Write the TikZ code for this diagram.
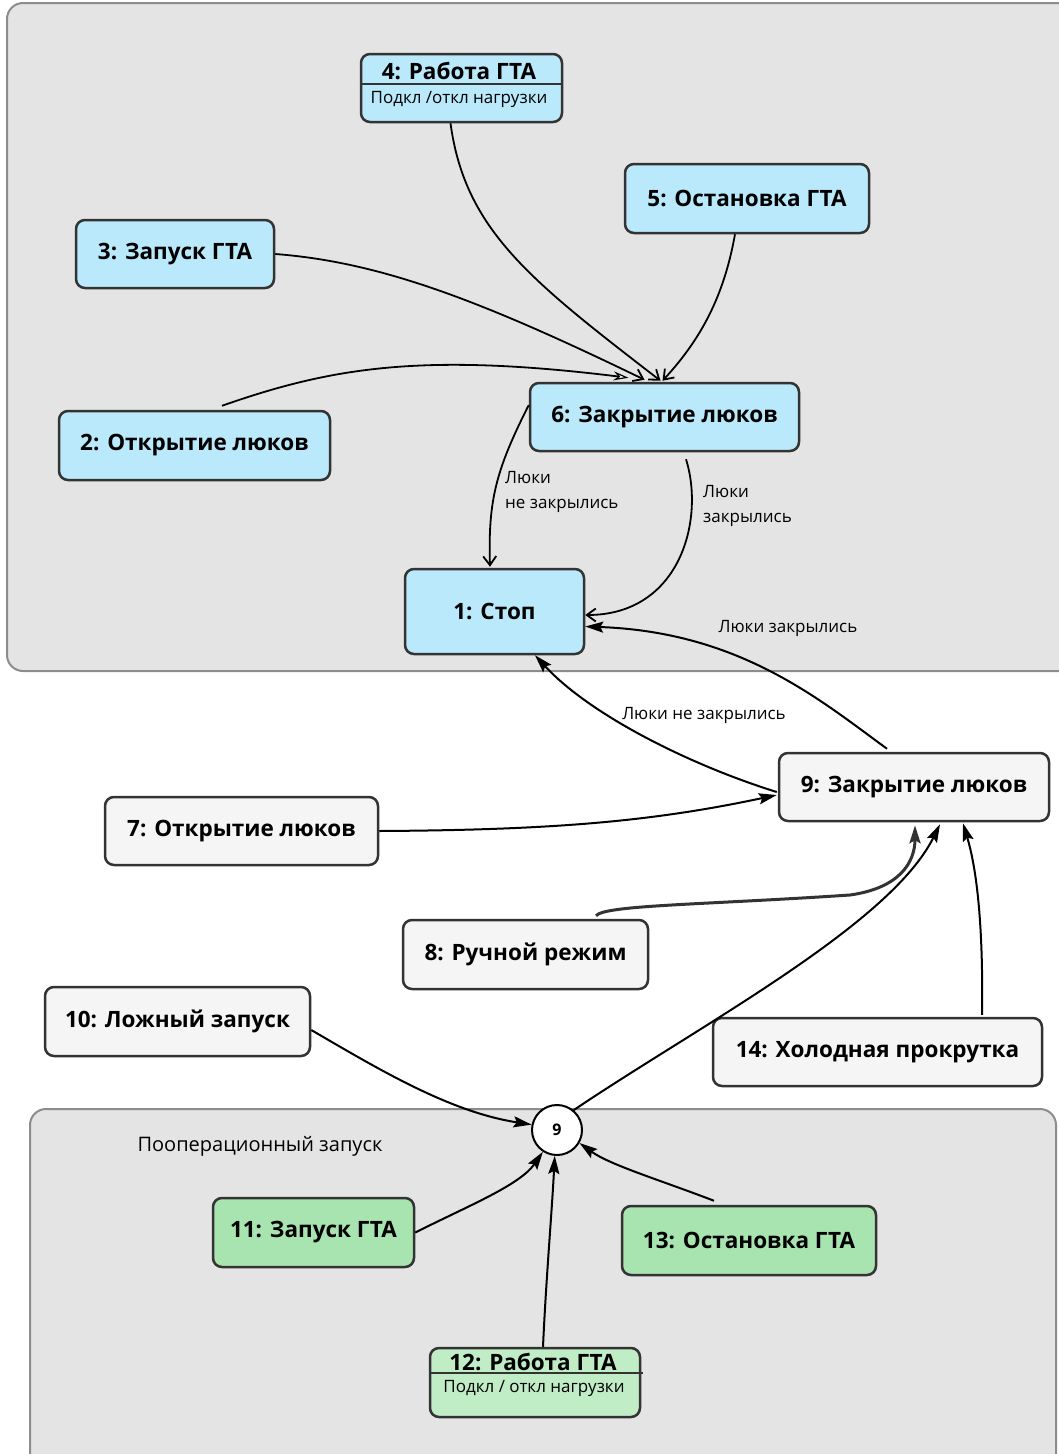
\documentclass[tikz,border=0pt]{standalone}
\usepackage{fontspec}
\setmainfont{Open Sans}
\usetikzlibrary{arrows.meta,calc}

\definecolor{panelfill}{RGB}{228,228,228}
\definecolor{panelline}{RGB}{140,140,140}
\definecolor{stateblue}{RGB}{185,233,250}
\definecolor{stategreen}{RGB}{168,228,176}
\definecolor{stategreenlt}{RGB}{192,236,198}
\definecolor{statewhite}{RGB}{245,245,245}
\definecolor{edgeline}{RGB}{51,51,51}

\newcommand{\titlefont}{\fontsize{22.5}{26}\selectfont\bfseries}
\newcommand{\subfont}{\fontsize{17}{20}\selectfont}
\newcommand{\edgefont}{\fontsize{17}{25}\selectfont}

\tikzset{
  panel/.style={draw=panelline, fill=panelfill, line width=2pt, rounded corners=16pt},
  state/.style={draw=edgeline, line width=2.5pt, rounded corners=9pt, inner sep=0pt,
                font=\titlefont},
  bluestate/.style={state, fill=stateblue},
  whitestate/.style={state, fill=statewhite},
  greenstate/.style={state, fill=stategreen},
  junction/.style={circle, draw=black, line width=2pt, fill=white, minimum size=50pt,
                   inner sep=0pt, font=\fontsize{16}{18}\selectfont\bfseries},
  edgelabel/.style={font=\edgefont, inner sep=0pt, align=left},
  barb/.style={line width=1.8pt, -{Straight Barb[length=9pt,width=13pt,line width=1.8pt]}},
  hollow/.style={line width=1.8pt, -{Stealth[fill=white,length=15pt,width=9pt,line width=1.2pt]}},
  solid arrow/.style={line width=2pt, -{Stealth[length=18pt,width=11pt,inset=3pt]}},
  thick arrow/.style={line width=3pt, draw=edgeline, -{Stealth[length=18pt,width=11pt,inset=3pt]}},
}

\begin{document}
\begin{tikzpicture}[x=1pt,y=-1pt]
\useasboundingbox (0,0) rectangle (1059,1454);
\clip (0,0) rectangle (1059,1454);

% group panels
\draw[panel] (7,3) rectangle (1080,671);
\draw[panel] (30,1109) rectangle (1056,1480);
\node[font=\fontsize{20}{24}\selectfont, inner sep=0pt] (oplabel) at (260,1146) {Пооперационный запуск};

% upper group states
\node[bluestate, minimum width=201pt, minimum height=68pt] (n4) at (461.5,88) {};
\draw[line width=1.5pt, draw=edgeline] ($(n4.north west)+(0,31)$) -- ($(n4.north east)+(0,31)$);
\node[font=\titlefont, inner sep=0pt] (n4t) at (459,71) {4: Работа ГТА};
\node[font=\subfont, inner sep=0pt] (n4s) at (459,99) {Подкл /откл нагрузки};

\node[bluestate, minimum width=244pt, minimum height=69pt] (n5) at (747,198.5) {5: Остановка ГТА};
\node[bluestate, minimum width=198pt, minimum height=68pt] (n3) at (175,254) {3: Запуск ГТА};
\node[bluestate, minimum width=271pt, minimum height=69pt] (n2) at (194.5,445.5) {2: Открытие люков};
\node[bluestate, minimum width=269pt, minimum height=68pt] (n6) at (664.5,417) {6: Закрытие люков};
\node[bluestate, minimum width=179pt, minimum height=85pt] (n1) at (494.5,611.5) {1: Стоп};

% middle states
\node[whitestate, minimum width=270pt, minimum height=68pt] (n9) at (914,787) {9: Закрытие люков};
\node[whitestate, minimum width=273pt, minimum height=68pt] (n7) at (241.5,831) {7: Открытие люков};
\node[whitestate, minimum width=245pt, minimum height=69pt] (n8) at (525.5,954.5) {8: Ручной режим};
\node[whitestate, minimum width=265pt, minimum height=69pt] (n10) at (177.5,1021.5) {10: Ложный запуск};
\node[whitestate, minimum width=329pt, minimum height=68pt] (n14) at (877.5,1052) {14: Холодная прокрутка};

% lower group states
\node[greenstate, minimum width=201pt, minimum height=69pt] (n11) at (313.5,1232.5) {11: Запуск ГТА};
\node[greenstate, minimum width=254pt, minimum height=69pt] (n13) at (749,1240.5) {13: Остановка ГТА};
\node[state, fill=stategreenlt, minimum width=210pt, minimum height=69pt] (n12) at (535,1382.5) {};
\draw[line width=1.5pt, draw=edgeline] ($(n12.north west)+(0,26)$) -- ($(n12.north east)+(2,26)$);
\node[font=\titlefont, inner sep=0pt] (n12t) at (533,1362) {12: Работа ГТА};
\node[font=\subfont, inner sep=0pt] (n12s) at (534,1388) {Подкл / откл нагрузки};

\node[junction] (c9) at (557,1130) {9};

% transitions into state 6
\draw[barb] ($(n4.south)+(-11,0)$) .. controls (465,230) and (530,280) .. ($(n6.north)+(-4,-1)$);
\draw[barb] ($(n5.south)+(-12,0)$) .. controls (725,290) and (705,335) .. ($(n6.north)+(-2,-1)$);
\draw[barb] (n3.east) .. controls (380,262) and (480,300) .. ($(n6.north)+(-20,-2)$);
\draw[hollow] ($(n2.north)+(27.5,-4)$) .. controls (330,368) and (420,352) .. ($(n6.north)+(-36,-4)$);

% transitions from state 6 to state 1
\draw[barb] ($(n6.west)+(0,-12)$) .. controls (496,470) and (488,500) .. ($(n1.north)+(-4.5,-1)$);
\node[edgelabel, anchor=north west] (l61a) at (505,471) {Люки\\не закрылись};
\draw[barb] ($(n6.south)+(21.5,7)$) .. controls (705,520) and (680,615) .. ($(n1.east)+(0,3.5)$);
\node[edgelabel, anchor=north west] (l61b) at (703,485) {Люки\\закрылись};

% transitions from state 9 to state 1
\draw[solid arrow] ($(n9.north)+(-27,-3)$) .. controls (820,700) and (740,632) .. ($(n1.east)+(0,15)$);
\node[edgelabel] (l91a) at (788,628) {Люки закрылись};
\draw[solid arrow] ($(n9.west)+(-1,5)$) .. controls (690,765) and (590,715) .. ($(n1.south)+(40.5,0)$);
\node[edgelabel] (l91b) at (704,715) {Люки не закрылись};

% transitions into state 9
\draw[solid arrow] (n7.east) .. controls (550,830) and (650,822) .. ($(n9.west)+(-1,8)$);
\draw[thick arrow] ($(n8.north)+(70.5,-3)$) .. controls (605,905) and (700,905) .. (850,895)
      .. controls (900,888) and (915,862) .. ($(n9.south)+(1,3)$);
\draw[solid arrow] (c9.50) .. controls (700,1025) and (890,925) .. ($(n9.south)+(26,2)$);
\draw[solid arrow] ($(n14.north)+(104.5,-2)$) .. controls (983,950) and (980,880) .. ($(n9.south)+(49,1)$);

% transitions into the junction
\draw[solid arrow] ($(n10.east)+(0,8.5)$) .. controls (380,1070) and (450,1112) .. (c9.168);
\draw[solid arrow] (n11.east) .. controls (470,1205) and (520,1185) .. (c9.237);
\draw[solid arrow] ($(n12.north)+(8,0)$) .. controls (546,1280) and (552,1210) .. (c9.265);
\draw[solid arrow] ($(n13.north)+(-35,-4)$) .. controls (660,1180) and (610,1165) .. (c9.-30);
\end{tikzpicture}
\end{document}
